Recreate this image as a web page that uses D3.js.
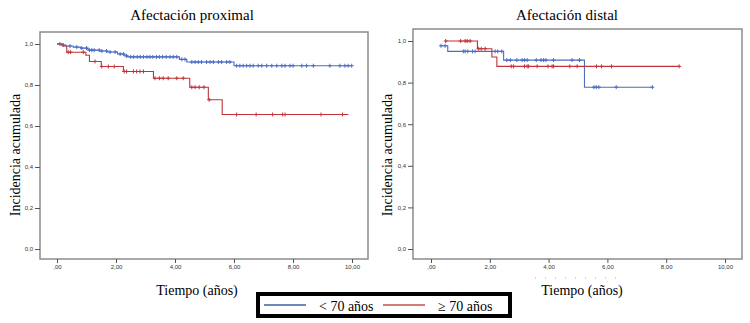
<!DOCTYPE html>
<html>
<head>
<title>Afectacion</title>
<script src="https://cdn.jsdelivr.net/npm/d3@7"></script>
<style>
  body { margin: 0; background: #fff; }
  svg text { font-family: "Liberation Serif", "Times New Roman", serif; }
  .axis text { font-family: "Liberation Sans", Arial, sans-serif; font-size: 6px; fill: #333; }
  .axis line { stroke: #555; }
  .axis path { display: none; }
</style>
</head>
<body>
<svg id="chart"></svg>
<script>
// ticks
var xTicks = [0, 2, 4, 6, 8, 10];
var xTickLabels = [",00", "2,00", "4,00", "6,00", "8,00", "10,00"];
var yTicks = [0, 0.2, 0.4, 0.6, 0.8, 1.0];
var yTickLabels = ["0,0", "0,2", "0,4", "0,6", "0,8", "1,0"];

var seriesNames = ["< 70 años", "\u2265 70 años"];

// Afectación proximal: steps [time, value], censor times, end time
var proxYoungSteps = [[0, 1.0], [0.15, 0.995], [0.3, 0.99], [0.55, 0.985], [0.8, 0.98], [1.05, 0.97],
  [1.45, 0.966], [1.7, 0.961], [2.05, 0.951], [2.3, 0.942], [2.4, 0.937], [4.15, 0.925], [4.4, 0.912], [6.0, 0.894]];
var proxYoungEnd = 10.0;
var proxYoungCensor = [0.1, 0.21, 0.44, 0.67, 0.84, 1.0, 1.1, 1.18, 1.26, 1.43, 1.52, 1.68, 1.8, 1.97, 2.14, 2.25,
  2.36, 2.5, 2.6, 2.72, 2.82, 2.93, 3.05, 3.15, 3.25, 3.37, 3.47, 3.58, 3.7, 3.83, 3.94, 4.06, 4.23, 4.34,
  4.57, 4.68, 4.79, 4.9, 5.07, 5.19, 5.3, 5.47, 5.58, 5.75, 5.86, 6.09, 6.2, 6.31, 6.43, 6.54, 6.65, 6.82,
  6.94, 7.11, 7.28, 7.45, 7.62, 7.73, 7.9, 8.0, 8.3, 8.46, 8.69, 9.25, 9.59, 9.76, 9.87, 9.99];

var proxOldSteps = [[0, 1.0], [0.2, 0.99], [0.33, 0.96], [0.98, 0.945], [1.1, 0.915], [1.5, 0.89],
  [2.25, 0.866], [3.27, 0.833], [4.5, 0.789], [5.13, 0.728], [5.6, 0.656]];
var proxOldEnd = 9.88;
var proxOldCensor = [0.38, 0.46, 0.89, 1.29, 1.52, 1.74, 1.94, 2.28, 2.36, 2.59, 2.7, 2.81, 2.93, 3.32, 3.47,
  3.6, 3.77, 4.06, 4.28, 4.57, 4.68, 4.82, 4.98, 5.16, 6.09, 6.75, 7.31, 7.65, 7.73, 8.95, 9.68];

// Afectación distal
var distYoungSteps = [[0.31, 0.977], [0.57, 0.95], [2.47, 0.908], [5.22, 0.778]];
var distYoungEnd = 7.53;
var distYoungCensor = [0.34, 0.48, 1.1, 1.16, 1.25, 1.41, 1.5, 2.18, 2.27, 2.41, 2.58, 2.7, 2.92, 3.1, 3.18,
  3.27, 3.58, 3.74, 3.83, 3.91, 4.17, 4.8, 5.05, 5.54, 5.62, 5.71, 6.3, 7.53];

var distOldSteps = [[0.5, 1.0], [1.58, 0.963], [2.07, 0.923], [2.24, 0.878]];
var distOldEnd = 8.44;
var distOldCensor = [0.5, 1.01, 1.16, 1.23, 1.33, 1.62, 1.71, 1.84, 2.73, 2.81, 3.18, 3.27, 3.32, 3.61, 3.98,
  4.12, 4.17, 4.72, 4.97, 5.63, 5.8, 6.14, 8.44];

var colors = ["#4a6cc4", "#c0343a"];
var legendColors = ["#3f63a0", "#c0504d"];

var svg = d3.select("#chart").attr("width", 750).attr("height", 323);

function valueAt(steps, t) {
  var v = steps[0][1];
  steps.forEach(function (s) { if (s[0] <= t) v = s[1]; });
  return v;
}

function drawPanel(p) {
  var x = d3.scaleLinear().domain([0, 10]).range([p.x0, p.x1]);
  var y = d3.scaleLinear().domain([0, 1]).range([p.y0, p.y1]);
  var g = svg.append("g");

  g.append("rect")
    .attr("x", p.left).attr("y", p.top)
    .attr("width", p.right - p.left).attr("height", p.bottom - p.top)
    .attr("fill", "#fff").attr("stroke", "#8c8c8c").attr("stroke-width", 1.5);

  g.append("g").attr("class", "axis")
    .attr("transform", "translate(" + p.left + ",0)")
    .call(d3.axisLeft(y).tickValues(yTicks).tickSize(5).tickPadding(2)
      .tickFormat(function (d, i) { return yTickLabels[i]; }));

  g.append("g").attr("class", "axis")
    .attr("transform", "translate(0," + p.bottom + ")")
    .call(d3.axisBottom(x).tickValues(xTicks).tickSize(4).tickPadding(2)
      .tickFormat(function (d, i) { return xTickLabels[i]; }));

  var line = d3.line()
    .x(function (d) { return x(d[0]); })
    .y(function (d) { return y(d[1]); })
    .curve(d3.curveStepAfter);

  p.series.forEach(function (s, i) {
    var pts = s.steps.concat([[s.end, s.steps[s.steps.length - 1][1]]]);
    g.append("path")
      .attr("d", line(pts))
      .attr("fill", "none")
      .attr("stroke", colors[i])
      .attr("stroke-width", 1.1);

    g.selectAll(".c" + i)
      .data(s.censor)
      .enter().append("path")
      .attr("class", "c" + i)
      .attr("d", function (t) {
        var cx = x(t), cy = y(valueAt(s.steps, t));
        return "M" + (cx - 2) + "," + cy + "H" + (cx + 2) + "M" + cx + "," + (cy - 2) + "V" + (cy + 2);
      })
      .attr("stroke", colors[i])
      .attr("stroke-width", 1);
  });

  g.append("text")
    .attr("x", p.titleX).attr("y", 20)
    .attr("text-anchor", "middle")
    .attr("font-size", "15px")
    .text(p.title);

  g.append("text")
    .attr("transform", "translate(" + p.yTitleX + ",155) rotate(-90)")
    .attr("text-anchor", "middle")
    .attr("font-size", "14px")
    .text("Incidencia acumulada");

  g.append("text")
    .attr("x", p.xTitleX).attr("y", 295)
    .attr("text-anchor", "middle")
    .attr("font-size", "14px")
    .text("Tiempo (años)");
}

drawPanel({
  title: "Afectación proximal", titleX: 192, yTitleX: 20, xTitleX: 197,
  left: 40, right: 368, top: 32, bottom: 259,
  x0: 57, x1: 352, y0: 249, y1: 44,
  series: [
    { steps: proxYoungSteps, end: proxYoungEnd, censor: proxYoungCensor },
    { steps: proxOldSteps, end: proxOldEnd, censor: proxOldCensor }
  ]
});

drawPanel({
  title: "Afectación distal", titleX: 567, yTitleX: 392, xTitleX: 582,
  left: 413, right: 742, top: 29, bottom: 259,
  x0: 431, x1: 725, y0: 249, y1: 41,
  series: [
    { steps: distYoungSteps, end: distYoungEnd, censor: distYoungCensor },
    { steps: distOldSteps, end: distOldEnd, censor: distOldCensor }
  ]
});

// faint dotted artifact under the right axis
svg.append("line")
  .attr("x1", 535).attr("x2", 618).attr("y1", 278).attr("y2", 278)
  .attr("stroke", "#aaa").attr("stroke-width", 1).attr("stroke-dasharray", "1,9");

// legend
var legend = svg.append("g");
legend.append("rect")
  .attr("x", 258).attr("y", 294).attr("width", 252).attr("height", 22)
  .attr("fill", "#fff").attr("stroke", "#000").attr("stroke-width", 4);

var legendX = [264, 383];
seriesNames.forEach(function (name, i) {
  legend.append("line")
    .attr("x1", legendX[i]).attr("x2", legendX[i] + 42)
    .attr("y1", 305).attr("y2", 305)
    .attr("stroke", legendColors[i]).attr("stroke-width", 1.3);
  var t = legend.append("text")
    .attr("x", legendX[i] + 55).attr("y", 311)
    .attr("font-size", "14px")
    .text(name);
  if (i === 1) t.attr("text-decoration", "none");
});
</script>
</body>
</html>
